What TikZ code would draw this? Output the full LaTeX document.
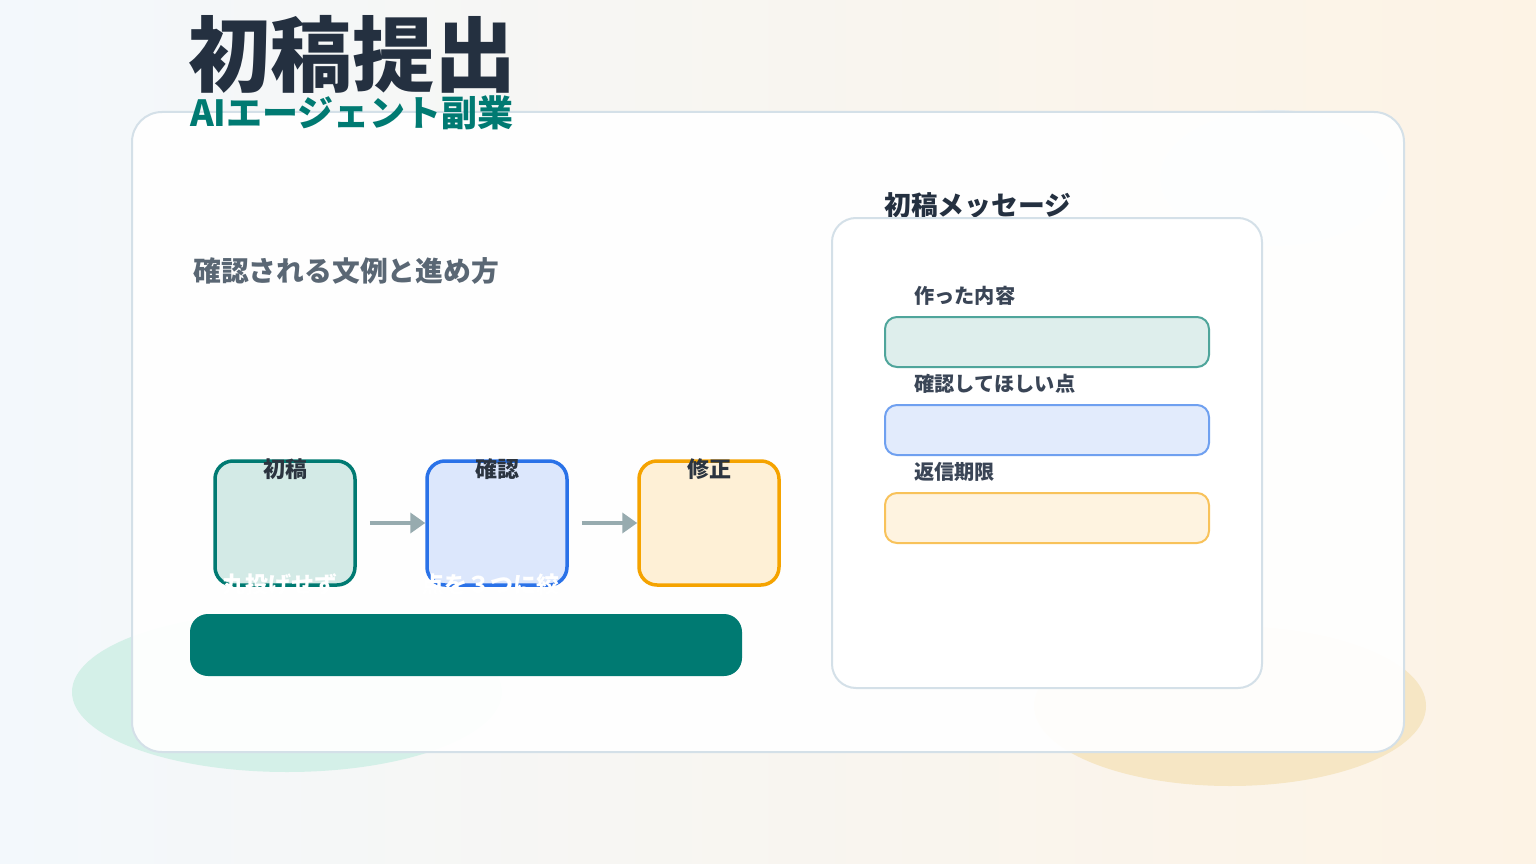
\documentclass[tikz,border=0pt]{standalone}
\usepackage{fontspec}
\setmainfont{Noto Sans CJK JP}
\usepackage{tikz}
\usetikzlibrary{positioning,arrows.meta}
\definecolor{titleink}{HTML}{243040}
\definecolor{tealmain}{HTML}{007A72}
\definecolor{subgray}{HTML}{5A6774}
\definecolor{labelink}{HTML}{2B3440}
\definecolor{fieldink}{HTML}{3A4556}
\definecolor{cardline}{HTML}{D4E0E8}
\definecolor{arrowgray}{HTML}{97ABAF}
\tikzset{
  flowarrow/.style={-{Triangle[length=15pt, width=20pt]}, line width=4pt, draw=arrowgray, shorten <=13pt},
  stagebox/.style={draw, rounded corners=18pt, line width=3.5pt, minimum width=140pt, minimum height=124pt},
  fieldbox/.style={draw, rounded corners=12pt, line width=2pt, minimum width=324pt, minimum height=50pt},
  stagelabel/.style={font=\fontsize{22}{26}\selectfont\bfseries, text=labelink, anchor=base, inner sep=0pt},
  fieldlabel/.style={font=\fontsize{20.2}{24}\selectfont\bfseries, text=fieldink, anchor=base west, inner sep=0pt},
  spilltext/.style={font=\fontsize{23}{26}\selectfont\bfseries, text=white, anchor=base west, inner sep=0pt}
}

\begin{document}
\begin{tikzpicture}[x=1pt, y=-1pt]
  \useasboundingbox (0,0) rectangle (1536,864);
  % backdrop
  \shade[left color={rgb,255:red,243;green,248;blue,252}, middle color={rgb,255:red,233;green,245;blue,238}, right color={rgb,255:red,253;green,243;blue,229}] (0,0) rectangle (1536,864);
  \fill[color={rgb,255:red,212;green,240;blue,232}] (287,692) ellipse [x radius=215, y radius=80];
  \fill[color={rgb,255:red,246;green,230;blue,196}] (1230,706) ellipse [x radius=196, y radius=80];
  \fill[color={rgb,255:red,232;green,238;blue,242}] (1275,178) ellipse [x radius=115, y radius=68];

  % card
  \draw[cardline, line width=2pt, fill=white, fill opacity=0.95, rounded corners=30pt] (132,112) rectangle (1404,752);

  % heading
  \node[font=\fontsize{82}{90}\selectfont\bfseries, text=titleink, anchor=base west, inner sep=0pt] (title) at (188,86) {初稿提出};
  \node[font=\fontsize{36}{40}\selectfont\bfseries, text=tealmain, anchor=base west, inner sep=0pt] (subtitle) at (190,127) {AIエージェント副業};
  \node[font=\fontsize{27.8}{30}\selectfont\bfseries, text=subgray, anchor=base west, inner sep=0pt] (flowhead) at (193,281) {確認される文例と進め方};

  % flow
  \node[stagebox, draw=tealmain, fill={rgb,255:red,211;green,234;blue,230}] (draft) at (285,523) {};
  \node[stagebox, draw={rgb,255:red,42;green,114;blue,232}, fill={rgb,255:red,220;green,231;blue,252}] (check) at (497,523) {};
  \node[stagebox, draw={rgb,255:red,245;green,163;blue,0}, fill={rgb,255:red,254;green,240;blue,214}] (revise) at (709,523) {};
  \node[stagelabel] (draftlbl) at (285,477) {初稿};
  \node[stagelabel] (checklbl) at (497,477) {確認};
  \node[stagelabel] (reviselbl) at (709,477) {修正};
  \draw[flowarrow] (draft.east) -- (check.west);
  \draw[flowarrow] (check.east) -- (revise.west);
  \node[spilltext] (drafttip) at (222,593) {丸投げせず};
  \node[spilltext] (checktip) at (421,593) {点を３つに絞};

  \fill[tealmain, rounded corners=18pt] (190,614) rectangle (742,676);

  % message panel
  \node[font=\fontsize{26.8}{30}\selectfont\bfseries, text=titleink, anchor=base west, inner sep=0pt] (msghead) at (884,215) {初稿メッセージ};
  \draw[cardline, line width=2pt, fill=white, rounded corners=24pt] (832,218) rectangle (1262,688);
  \node[fieldlabel] (madelbl) at (914,303) {作った内容};
  \node[fieldbox, draw={rgb,255:red,79;green,165;blue,155}, fill={rgb,255:red,222;green,238;blue,236}] (made) at (1047,342) {};
  \node[fieldlabel] (pointlbl) at (914,391) {確認してほしい点};
  \node[fieldbox, draw={rgb,255:red,111;green,160;blue,240}, fill={rgb,255:red,226;green,235;blue,252}] (points) at (1047,430) {};
  \node[fieldlabel] (duelbl) at (914,479) {返信期限};
  \node[fieldbox, draw={rgb,255:red,248;green,194;blue,90}, fill={rgb,255:red,254;green,243;blue,224}] (due) at (1047,518) {};
\end{tikzpicture}
\end{document}
